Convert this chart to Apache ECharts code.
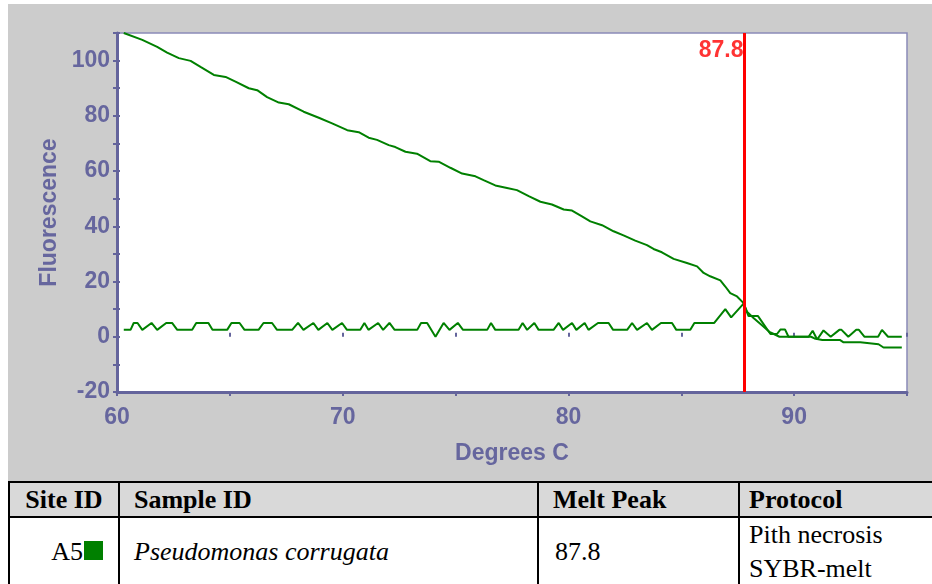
<!DOCTYPE html>
<html>
<head>
<meta charset="utf-8">
<script src="https://cdn.jsdelivr.net/npm/echarts@6/dist/echarts.min.js"></script>
<style>
  html, body { margin: 0; padding: 0; background: #fff; }
  body { width: 932px; height: 584px; overflow: hidden; position: relative; }
  #main { position: absolute; left: 8px; top: 4px; width: 924px; height: 477px; background: #cccccc; }
  #info { position: absolute; left: 8px; top: 481px; width: 950px; border-collapse: collapse; table-layout: fixed; }
  #info td, #info th { border: 2px solid #000; padding: 0; overflow: hidden; white-space: nowrap;
    font-family: 'Liberation Serif', 'DejaVu Serif', serif; font-size: 26px; color: #000; }
  #info th { background: #d9d9d9; height: 33px; line-height: 33px; font-weight: bold; text-align: left; }
  #info td { background: #fff; height: 65px; vertical-align: middle; font-weight: 400; }
  .swatch { display: inline-block; width: 19px; height: 19px; background: #008000; margin-left: 1px; }
</style>
</head>
<body>
<div id="main"></div>
<table id="info"></table>
<script>
// melt curve (fluorescence vs temperature)
const meltTemps = [60.30, 61.12, 61.78, 62.22, 62.74, 63.26, 63.70, 64.29, 64.81, 65.25, 65.84, 66.21, 66.65, 67.17,
  67.61, 68.27, 68.94, 69.53, 70.20, 70.71, 71.15, 71.52, 72.04, 72.33, 72.78, 73.29, 73.88, 74.25, 74.77, 75.29,
  75.88, 76.24, 76.76, 77.28, 77.72, 78.24, 78.76, 79.27, 79.79, 80.16, 80.60, 80.97, 81.49, 82.00, 82.44, 82.96,
  83.48, 83.77, 84.14, 84.66, 85.25, 85.70, 85.99, 86.28, 86.73, 86.95, 87.17, 87.47, 87.76, 87.91, 88.20, 88.60,
  88.90, 89.10, 89.35, 90.75, 90.90, 91.25, 92.04, 92.19, 92.93, 93.00, 93.74, 93.96, 94.77];
const meltFluor = [110, 107.5, 105.0, 102.9, 100.9, 99.9, 97.7, 94.8, 94.1, 92.4, 90.0, 89.3, 86.8, 84.8,
  84.2, 81.5, 79.3, 77.3, 74.8, 74.1, 72.1, 71.3, 69.4, 68.7, 67.0, 66.3, 63.6, 63.4, 61.2, 59.1,
  58.1, 56.7, 54.8, 53.9, 53.1, 50.9, 48.9, 47.9, 46.1, 45.7, 43.6, 41.8, 40.4, 38.2, 36.7, 34.8,
  33.2, 31.8, 30.6, 28.2, 26.7, 25.5, 23.1, 21.9, 20.4, 18.2, 15.8, 14.6, 12.2, 9.1, 6.8, 4.0,
  1.8, 1.0, 0, 0, -0.6, -1.2, -1.2, -2.0, -2.0, -2.7, -2.7, -3.9, -3.9];

// derivative curve
const derivTemps = [60.30, 60.60, 60.74, 60.91, 61.12, 61.53, 61.78, 62.18, 62.44, 62.67, 63.33, 63.51, 64.05, 64.23,
  64.88, 65.07, 65.43, 65.65, 66.27, 66.49, 66.87, 67.09, 67.76, 68.02, 68.26, 68.70, 68.92, 69.32, 69.54, 69.97,
  70.19, 70.78, 70.96, 71.14, 71.57, 71.79, 72.07, 72.30, 73.30, 73.47, 73.74, 74.11, 74.47, 74.73, 75.10, 75.33,
  76.40, 76.57, 76.76, 77.79, 77.97, 78.17, 78.49, 78.68, 79.34, 79.57, 79.76, 80.16, 80.35, 80.72, 80.89, 81.31,
  81.78, 81.98, 82.60, 82.82, 83.04, 83.48, 83.70, 84.10, 84.59, 84.78, 85.40, 85.58, 86.46, 86.95, 87.21, 87.76,
  87.98, 88.40, 88.95, 89.24, 89.39, 89.60, 89.75, 90.64, 90.82, 91.02, 91.30, 91.62, 92.00, 92.10, 92.40, 92.75,
  92.87, 93.12, 93.72, 93.89, 94.16, 94.77];
const derivValues = [2.5, 2.5, 5, 5, 2.5, 5, 2.5, 5, 5, 2.5, 2.5, 5, 5, 2.5,
  2.5, 5, 5, 2.5, 2.5, 5, 5, 2.5, 2.5, 5, 2.5, 5, 2.5, 5, 2.5, 5,
  2.5, 2.5, 5, 2.5, 5, 2.5, 5, 2.5, 2.5, 5, 5, 0, 5, 2.5, 5, 2.5,
  2.5, 5, 2.5, 2.5, 5, 2.5, 5, 2.5, 2.5, 5, 2.5, 5, 2.5, 5, 2.5, 5,
  5, 2.5, 2.5, 5, 2.5, 5, 2.5, 5, 5, 2.5, 2.5, 5, 5, 10, 7, 12,
  7.5, 7.5, 1, 1, 2.6, 2.6, 0, 0, 2.2, -1, 2.3, 0, 2.5, 2.5, 0, 2.5,
  2.5, 0, 0, 2.5, 0, 0];

const meltPeak = 87.8;
const xTickLabels = [60, 70, 80, 90];
const yTickLabels = [-20, 0, 20, 40, 60, 80, 100];

const tableHeaders = ['Site ID', 'Sample ID', 'Melt Peak', 'Protocol'];
const tableRow = ['A5', 'Pseudomonas corrugata', meltPeak.toFixed(1), 'Pith necrosis|SYBR-melt'];

const axisColor = '#64649c';
const labelFont = { color: '#66669e', fontFamily: 'Liberation Sans, Arial, sans-serif', fontWeight: 'bold', fontSize: 23 };

var chartDom = document.getElementById('main');
var myChart = echarts.init(chartDom);

const pairs = (xs, ys) => xs.map((x, i) => [x, ys[i]]);

var option = {
  animation: false,
  grid: {
    left: 109, right: 25, top: 29, bottom: 89,
    show: true, backgroundColor: '#ffffff', borderColor: '#8a8ab8', borderWidth: 1.5
  },
  xAxis: [
    {
      type: 'value', min: 60, max: 95, interval: 5,
      name: 'Degrees C', nameLocation: 'middle', nameGap: 50,
      nameTextStyle: labelFont,
      axisLine: { show: true, onZero: false, lineStyle: { color: axisColor, width: 3 } },
      axisTick: { show: true, length: 4, lineStyle: { color: axisColor, width: 2 } },
      axisLabel: Object.assign({ margin: 14, formatter: v => xTickLabels.includes(v) ? String(v) : '' }, labelFont),
      splitLine: { show: false }
    },
    {
      type: 'value', min: 60, max: 95, interval: 5, position: 'bottom',
      axisLine: { show: false },
      axisTick: { show: true, inside: true, length: 4, lineStyle: { color: axisColor, width: 2 } },
      axisLabel: { show: false }, splitLine: { show: false }
    }
  ],
  yAxis: [
    {
      type: 'value', min: -20, max: 110, interval: 10,
      name: 'Fluorescence', nameLocation: 'middle', nameGap: 50, nameRotate: 90,
      nameTextStyle: labelFont,
      axisLine: { show: true, onZero: false, lineStyle: { color: axisColor, width: 3 } },
      axisTick: { show: true, length: 4, lineStyle: { color: axisColor, width: 2 } },
      axisLabel: Object.assign({ margin: 7, formatter: v => yTickLabels.includes(v) ? String(v) : '' }, labelFont),
      splitLine: { show: false }
    },
    {
      type: 'value', min: -20, max: 110, interval: 10, position: 'left',
      axisLine: { show: false },
      axisTick: { show: true, inside: true, length: 3, lineStyle: { color: axisColor, width: 2 } },
      axisLabel: { show: false }, splitLine: { show: false }
    }
  ],
  series: [
    {
      type: 'line', data: pairs(meltTemps, meltFluor), showSymbol: false, symbol: 'none',
      lineStyle: { color: '#008000', width: 2 },
      markLine: {
        silent: true, symbol: ['none', 'none'],
        label: { show: false },
        lineStyle: { color: '#ff0000', width: 3, type: 'solid' },
        data: [{ xAxis: meltPeak }]
      }
    },
    {
      type: 'line', data: pairs(derivTemps, derivValues), showSymbol: false, symbol: 'none',
      lineStyle: { color: '#008000', width: 2 }
    },
    {
      type: 'scatter', data: [[meltPeak, 110]], symbolSize: 0, z: 10,
      label: {
        show: true, position: 'left', distance: 1, offset: [0, 18],
        formatter: meltPeak.toFixed(1),
        color: '#ff0000', fontFamily: 'Liberation Sans, Arial, sans-serif', fontWeight: 'bold', fontSize: 23
      }
    }
  ]
};

option && myChart.setOption(option);

// info table
const table = document.getElementById('info');
const colWidths = [110, 419, 201, 220];
const colgroup = document.createElement('colgroup');
colWidths.forEach(w => {
  const c = document.createElement('col');
  c.style.width = w + 'px';
  colgroup.appendChild(c);
});
table.appendChild(colgroup);

const head = document.createElement('tr');
tableHeaders.forEach((h, i) => {
  const th = document.createElement('th');
  th.textContent = h;
  if (i === 0) th.style.textAlign = 'center';
  th.style.paddingLeft = ['0px', '14px', '14px', '9px'][i];
  head.appendChild(th);
});
table.appendChild(head);

const row = document.createElement('tr');
tableRow.forEach((v, i) => {
  const td = document.createElement('td');
  if (i === 0) {
    td.style.textAlign = 'right';
    td.style.paddingRight = '15px';
    td.innerHTML = v + '<span class="swatch"></span>';
  } else if (i === 1) {
    td.style.paddingLeft = '14px';
    td.style.fontStyle = 'italic';
    td.textContent = v;
  } else if (i === 2) {
    td.style.paddingLeft = '16px';
    td.textContent = v;
  } else {
    td.style.paddingLeft = '9px';
    td.style.lineHeight = '34px';
    td.innerHTML = v.split('|').join('<br>');
  }
  row.appendChild(td);
});
table.appendChild(row);
</script>
</body>
</html>
